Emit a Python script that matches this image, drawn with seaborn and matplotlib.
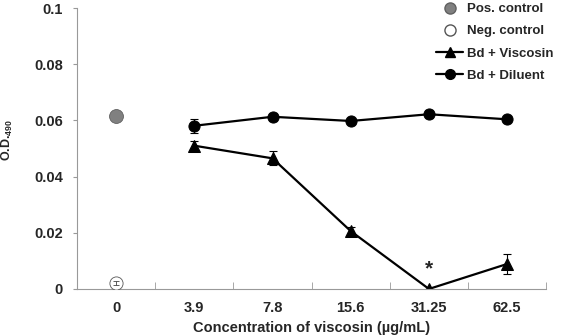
import matplotlib
matplotlib.use('Agg')
import matplotlib.pyplot as plt
import seaborn as sns
import pandas as pd
import numpy as np

concentrations = ['0', '3.9', '7.8', '15.6', '31.25', '62.5']
pos_control = 0.0616
neg_control = 0.0021
neg_control_err = 0.0008
viscosin = [0.0510, 0.0465, 0.0206, 0.0, 0.0089]
viscosin_err = [0.0015, 0.0025, 0.0015, 0.0, 0.0037]
diluent = [0.0581, 0.0613, 0.0598, 0.0622, 0.0604]
diluent_err = [0.0025, 0.0015, 0.0005, 0.0015, 0.0007]

sns.set_style('white')
plt.rcParams['font.family'] = ['Liberation Sans', 'DejaVu Sans']
plt.rcParams['font.weight'] = 'bold'
plt.rcParams['mathtext.fontset'] = 'custom'
plt.rcParams['mathtext.rm'] = 'Liberation Sans'
plt.rcParams['mathtext.bf'] = 'Liberation Sans:bold'

fig = plt.figure(figsize=(5.62, 3.36), dpi=100)
ax = fig.add_axes([0.137, 0.14, 0.835, 0.836])

xpos = np.arange(1, len(concentrations))
df = pd.DataFrame({'x': np.concatenate([xpos, xpos]),
                   'od': viscosin + diluent,
                   'group': ['Bd + Viscosin'] * 5 + ['Bd + Diluent'] * 5})

ax.errorbar(xpos, viscosin, yerr=viscosin_err, fmt='none', ecolor='black', elinewidth=0.8, capsize=3, capthick=0.8)
ax.errorbar(xpos, diluent, yerr=diluent_err, fmt='none', ecolor='black', elinewidth=0.8, capsize=3, capthick=0.8)
ax.errorbar([0], [neg_control], yerr=[neg_control_err], fmt='none', ecolor='#444444', elinewidth=0.6, capsize=2, capthick=0.6, zorder=4)

sns.lineplot(data=df, x='x', y='od', hue='group', style='group',
             palette=['black', 'black'], markers={'Bd + Viscosin': '^', 'Bd + Diluent': 'o'},
             dashes=False, markersize=8, linewidth=1.6, markeredgecolor='black', ax=ax, legend=False)

ax.scatter([0], [pos_control], s=100, color='#808080', edgecolor='#606060', linewidth=0.6, zorder=3)
ax.scatter([0], [neg_control], s=90, color='white', edgecolor='#555555', linewidth=0.6, zorder=3)

ax.text(4, 0.0072, '*', ha='center', va='center', fontsize=15, fontweight='bold')

ax.set_xlim(-0.5, 5.5)
ax.set_ylim(0, 0.1)
ax.set_xticks(range(len(concentrations)))
ax.set_xticklabels(concentrations, fontweight='bold')
ax.set_xticks(np.arange(-0.5, 6, 1), minor=True)
ax.tick_params(axis='x', which='major', length=0, pad=9, labelsize=10.5)
ax.tick_params(axis='x', which='minor', length=5, direction='in', color='#999999', bottom=True)
ax.set_yticks([0, 0.02, 0.04, 0.06, 0.08, 0.1])
ax.set_yticklabels(['0', '0.02', '0.04', '0.06', '0.08', '0.1'], fontweight='bold')
ax.tick_params(axis='y', length=3, direction='out', color='#999999', left=True, labelsize=10.5, pad=7)

for s in ['top', 'right']:
    ax.spines[s].set_visible(False)
for s in ['left', 'bottom']:
    ax.spines[s].set_color('#999999')
    ax.spines[s].set_linewidth(0.8)

ax.set_xlabel('Concentration of viscosin (\u00b5g/mL)', fontsize=10.5, fontweight='bold', labelpad=4)
ax.set_ylabel(r'O.D.$_{\mathbf{490}}$', fontsize=9, fontweight='bold')
ax.yaxis.set_label_coords(-0.132, 0.53)

handles = [
    plt.Line2D([], [], linestyle='none', marker='o', markersize=8, markerfacecolor='#808080', markeredgecolor='#606060'),
    plt.Line2D([], [], linestyle='none', marker='o', markersize=8, markerfacecolor='white', markeredgecolor='#555555'),
    plt.Line2D([], [], color='black', marker='^', markersize=7, linewidth=1.6),
    plt.Line2D([], [], color='black', marker='o', markersize=7, linewidth=1.6),
]
labels = ['Pos. control', 'Neg. control', 'Bd + Viscosin', 'Bd + Diluent']
ax.legend(handles, labels, loc='upper right', bbox_to_anchor=(1.04, 1.06), frameon=False,
          prop={'weight': 'bold', 'size': 9.5}, handlelength=2.0, handletextpad=0.3, labelspacing=0.75)

fig.savefig('out.png', dpi=100)
